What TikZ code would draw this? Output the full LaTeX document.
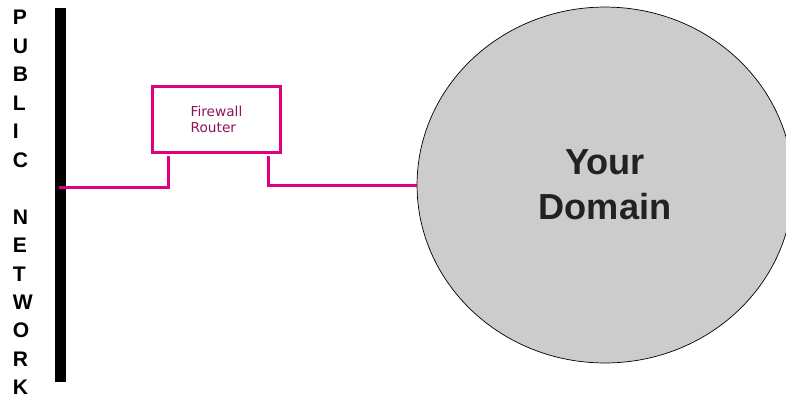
\documentclass[tikz,border=0pt]{standalone}
\usepackage{fontspec}
\setmainfont{Liberation Sans}
\newfontfamily\routerfont{DejaVu Sans}
\usetikzlibrary{positioning, shapes.geometric}
\definecolor{pink}{RGB}{224,0,132}
\definecolor{plum}{RGB}{140,22,92}
\definecolor{domaingray}{RGB}{204,204,204}

\tikzset{
    link/.style={draw=pink, line width=0.06cm},
}

\begin{document}
\begin{tikzpicture}[x=0.02cm, y=-0.02cm]
    \useasboundingbox (0,0) rectangle (786,400);

    % Thanh dọc màu đen: mạng công cộng
    \node[fill=black, inner sep=0, minimum width=0.22cm, minimum height=7.48cm] (bar) at (60.5,195) {};
    \coordinate (tap) at (59,187);

    % Chữ dọc "PUBLIC NETWORK" bên trái thanh
    \node[anchor=north west, inner sep=0, align=left, font=\fontsize{12}{16.2}\selectfont\bfseries] (public) at (12.5,10)
        {P\\U\\B\\L\\I\\C\\ \\N\\E\\T\\W\\O\\R\\K};

    % Hộp "Firewall Router" viền hồng
    \node[draw=pink, line width=0.06cm, minimum width=2.56cm, minimum height=1.32cm, align=left,
          text=plum, font=\routerfont\fontsize{7.8}{8.7}\selectfont] (router) at (216.5,119.5) {Firewall\\Router};

    % Hình elip xám "Your Domain"
    \node[ellipse, draw, thin, fill=domaingray, inner sep=0, minimum width=7.52cm, minimum height=7.12cm,
          align=center, text={rgb,255:red,34;green,34;blue,34},
          font=\fontsize{20.6}{25.5}\selectfont\bfseries] (domain) at (605,185) {Your\\Domain};

    % Dây nối: thanh -> router -> domain
    \draw[link] ([xshift=0.35cm, yshift=-0.04cm]router.south west) |- (tap);
    \draw[link] ([xshift=-0.27cm, yshift=-0.04cm]router.south east) |- (domain.west);
\end{tikzpicture}
\end{document}
